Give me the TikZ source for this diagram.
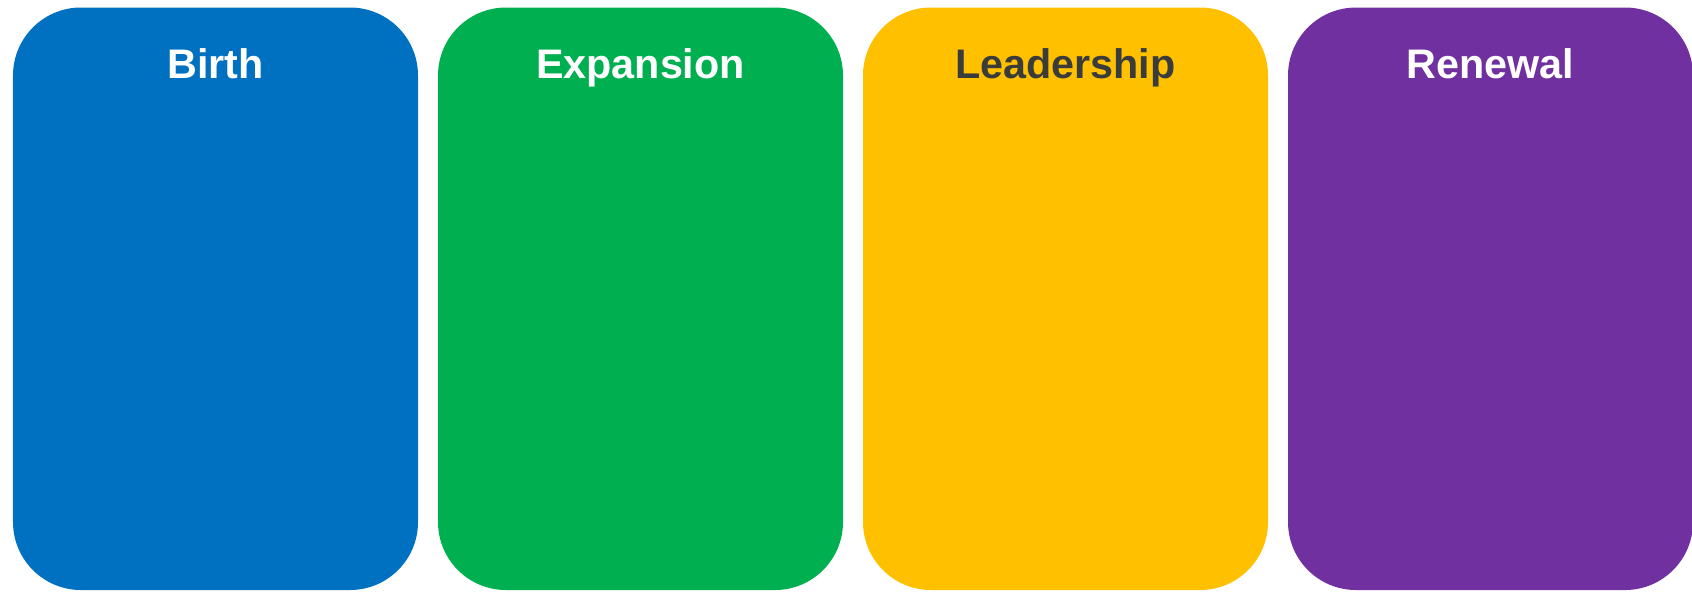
\documentclass[tikz,border=0pt]{standalone}
\usepackage{fontspec}
\setmainfont{Liberation Sans}
\usepackage{tikz}
\usetikzlibrary{positioning}
\definecolor{birthblue}{HTML}{0070C0}
\definecolor{expgreen}{HTML}{00B050}
\definecolor{leadyellow}{HTML}{FFC000}
\definecolor{renpurple}{HTML}{7030A0}
\definecolor{darktext}{HTML}{3A3C3C}
\tikzset{
    phase/.style={rectangle, rounded corners=1.36cm, minimum width=8.1cm, minimum height=11.65cm, inner sep=0pt, outer sep=0pt},
    phasetitle/.style={anchor=base, font=\fontsize{23.5}{28}\selectfont\bfseries, text=white}
}
\begin{document}
\begin{tikzpicture}
    \useasboundingbox (0,0) rectangle (33.84,-11.82);
    \node[phase, fill=birthblue, anchor=north west] (birth) at (0.26,-0.15) {};
    \node[phase, fill=expgreen, right=0.4cm of birth] (expansion) {};
    \node[phase, fill=leadyellow, right=0.4cm of expansion] (leadership) {};
    \node[phase, fill=renpurple, right=0.4cm of leadership] (renewal) {};
    \node[phasetitle] (birthtitle) at ([yshift=-1.42cm]birth.north) {Birth};
    \node[phasetitle] (expansiontitle) at ([yshift=-1.42cm]expansion.north) {Expansion};
    \node[phasetitle, text=darktext] (leadershiptitle) at ([yshift=-1.42cm]leadership.north) {Leadership};
    \node[phasetitle] (renewaltitle) at ([yshift=-1.42cm]renewal.north) {Renewal};
\end{tikzpicture}
\end{document}
